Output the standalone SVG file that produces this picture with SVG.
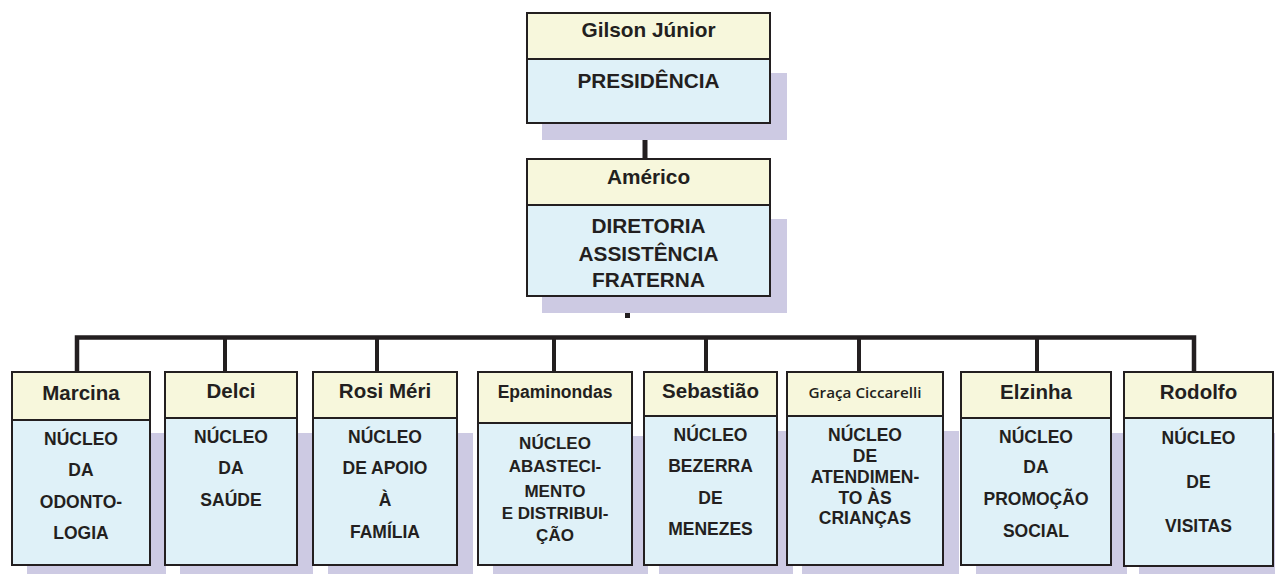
<svg xmlns="http://www.w3.org/2000/svg" width="1275" height="574" viewBox="0 0 1275 574">
<style>
.sh{fill:#cdcae3}
.hd{fill:#f7f7dc;stroke:#231f20;stroke-width:2}
.bd{fill:#dff1f8;stroke:#231f20;stroke-width:2}
.t{font-family:"Liberation Sans",Arial,sans-serif;font-weight:bold;fill:#231f20;text-anchor:middle}
.h{font-size:20.5px}
.b{font-size:17.5px}
.tb{font-size:20.8px}
.c{stroke:#231f20;fill:none}
</style>
<rect width="1275" height="574" fill="#ffffff"/>
<g id="connectors">
<line class="c" x1="645" y1="138" x2="645" y2="160" stroke-width="5"/>
<line class="c" x1="627.5" y1="312" x2="627.5" y2="318" stroke-width="5"/>
<polyline class="c" points="77,372 77,337.5 1194,337.5 1194,372" stroke-width="4.5"/>
<line class="c" x1="225" y1="337" x2="225" y2="372" stroke-width="4"/>
<line class="c" x1="377" y1="337" x2="377" y2="372" stroke-width="4"/>
<line class="c" x1="554" y1="337" x2="554" y2="372" stroke-width="4"/>
<line class="c" x1="706" y1="337" x2="706" y2="372" stroke-width="4"/>
<line class="c" x1="859" y1="337" x2="859" y2="372" stroke-width="4"/>
<line class="c" x1="1037" y1="337" x2="1037" y2="372" stroke-width="4"/>
</g>
<g id="presidencia">
<rect class="sh" x="542" y="73" width="245" height="67"/>
<rect class="hd" x="527" y="13" width="243" height="46"/>
<rect class="bd" x="527" y="59" width="243" height="64"/>
<text class="t tb" x="648.5" y="37">Gilson Júnior</text>
<text class="t tb" x="648.5" y="88">PRESIDÊNCIA</text>
</g>
<g id="diretoria">
<rect class="sh" x="542" y="219" width="245" height="94"/>
<rect class="hd" x="527" y="159" width="243" height="46"/>
<rect class="bd" x="527" y="205" width="243" height="91"/>
<text class="t tb" x="648.5" y="184">Américo</text>
<text class="t tb" x="648.5" y="233">DIRETORIA</text>
<text class="t tb" x="648.5" y="261">ASSISTÊNCIA</text>
<text class="t tb" x="648.5" y="287">FRATERNA</text>
</g>
<g id="n1">
<rect class="sh" x="27" y="433" width="139" height="141"/>
<rect class="hd" x="12" y="372" width="138" height="48"/>
<rect class="bd" x="12" y="420" width="138" height="145"/>
<text class="t h" x="81" y="400">Marcina</text>
<text class="t b" x="81" y="445">NÚCLEO</text>
<text class="t b" x="81" y="476">DA</text>
<text class="t b" x="81" y="508">ODONTO-</text>
<text class="t b" x="81" y="539">LOGIA</text>
</g>
<g id="n2">
<rect class="sh" x="180" y="433" width="133" height="141"/>
<rect class="hd" x="165" y="372" width="132" height="46"/>
<rect class="bd" x="165" y="418" width="132" height="147"/>
<text class="t h" x="231" y="398">Delci</text>
<text class="t b" x="231" y="443">NÚCLEO</text>
<text class="t b" x="231" y="474">DA</text>
<text class="t b" x="231" y="506">SAÚDE</text>
</g>
<g id="n3">
<rect class="sh" x="328" y="433" width="145" height="141"/>
<rect class="hd" x="313" y="372" width="144" height="46"/>
<rect class="bd" x="313" y="418" width="144" height="147"/>
<text class="t h" x="385" y="398">Rosi Méri</text>
<text class="t b" x="385" y="443">NÚCLEO</text>
<text class="t b" x="385" y="474">DE APOIO</text>
<text class="t b" x="385" y="506">À</text>
<text class="t b" x="385" y="538">FAMÍLIA</text>
</g>
<g id="n4">
<rect class="sh" x="493" y="436" width="155" height="138"/>
<rect class="hd" x="478" y="372" width="154" height="51"/>
<rect class="bd" x="478" y="423" width="154" height="142"/>
<text class="t" style="font-size:17.5px" x="555" y="398">Epaminondas</text>
<text class="t" style="font-size:17px" x="555" y="449">NÚCLEO</text>
<text class="t" style="font-size:17px" x="555" y="472">ABASTECI-</text>
<text class="t" style="font-size:17px" x="555" y="497">MENTO</text>
<text class="t" style="font-size:17px" x="555" y="519">E DISTRIBUI-</text>
<text class="t" style="font-size:17px" x="555" y="541">ÇÃO</text>
</g>
<g id="n5">
<rect class="sh" x="659" y="431" width="134" height="143"/>
<rect class="hd" x="644" y="372" width="133" height="44"/>
<rect class="bd" x="644" y="416" width="133" height="149"/>
<text class="t h" x="710.5" y="398">Sebastião</text>
<text class="t b" x="710.5" y="441">NÚCLEO</text>
<text class="t b" x="710.5" y="472">BEZERRA</text>
<text class="t b" x="710.5" y="504">DE</text>
<text class="t b" x="710.5" y="535">MENEZES</text>
</g>
<g id="n6">
<rect class="sh" x="802" y="431" width="157" height="143"/>
<rect class="hd" x="787" y="372" width="156" height="44"/>
<rect class="bd" x="787" y="416" width="156" height="149"/>
<text x="865" y="398" style="font-family:'Open Sans','Noto Sans',sans-serif;font-weight:600;font-size:15px;fill:#231f20;text-anchor:middle" textLength="113" lengthAdjust="spacingAndGlyphs">Graça Ciccarelli</text>
<text class="t b" x="865" y="441">NÚCLEO</text>
<text class="t b" x="865" y="462">DE</text>
<text class="t b" x="865" y="483">ATENDIMEN-</text>
<text class="t b" x="865" y="504">TO ÀS</text>
<text class="t b" x="865" y="524">CRIANÇAS</text>
</g>
<g id="n7">
<rect class="sh" x="976" y="433" width="151" height="141"/>
<rect class="hd" x="961" y="372" width="150" height="46"/>
<rect class="bd" x="961" y="418" width="150" height="147"/>
<text class="t h" x="1036" y="399">Elzinha</text>
<text class="t b" x="1036" y="443">NÚCLEO</text>
<text class="t b" x="1036" y="473">DA</text>
<text class="t b" x="1036" y="505">PROMOÇÃO</text>
<text class="t b" x="1036" y="537">SOCIAL</text>
</g>
<g id="n8">
<rect class="sh" x="1139" y="433" width="140" height="141"/>
<rect class="hd" x="1124" y="372" width="149" height="46"/>
<rect class="bd" x="1124" y="418" width="149" height="148"/>
<text class="t h" x="1198.5" y="399">Rodolfo</text>
<text class="t b" x="1198.5" y="444">NÚCLEO</text>
<text class="t b" x="1198.5" y="488">DE</text>
<text class="t b" x="1198.5" y="532">VISITAS</text>
</g>
</svg>
